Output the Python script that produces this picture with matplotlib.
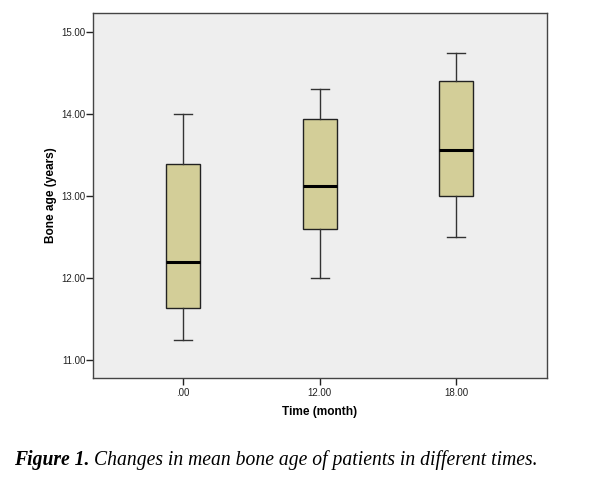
import matplotlib
matplotlib.use("Agg")
import matplotlib.pyplot as plt

categories = [".00", "12.00", "18.00"]
whislo = [11.25, 12.0, 12.5]
q1 = [11.63, 12.60, 13.0]
med = [12.20, 13.12, 13.56]
q3 = [13.39, 13.945, 14.41]
whishi = [14.0, 14.31, 14.75]
yticks = [11.0, 12.0, 13.0, 14.0, 15.0]
ytick_labels = ["11.00", "12.00", "13.00", "14.00", "15.00"]

fig = plt.figure(figsize=(5.91, 4.79), dpi=100)
ax = fig.add_axes([93/591, 1-378/479, (547-93)/591, (378-13)/479])
ax.set_facecolor("#EEEEEE")

stats = []
for i, c in enumerate(categories):
    stats.append(dict(label=c, whislo=whislo[i], q1=q1[i], med=med[i],
                      q3=q3[i], whishi=whishi[i], fliers=[]))
positions = list(range(1, len(categories) + 1))
ax.bxp(stats, positions=positions, widths=0.25, patch_artist=True,
       showfliers=False, capwidths=0.13,
       boxprops=dict(facecolor="#D3CE98", edgecolor="#222222", linewidth=1.0),
       medianprops=dict(color="black", linewidth=2.2),
       whiskerprops=dict(color="#333333", linewidth=1.0),
       capprops=dict(color="#333333", linewidth=1.0))

ax.set_xlim(0.34, 3.665)
ax.set_ylim(10.78, 15.236)
ax.set_yticks(yticks)
ax.set_yticklabels(ytick_labels)
ax.set_xticks(positions)
ax.set_xticklabels(categories)
for s in ax.spines.values():
    s.set_color("#444444")
    s.set_linewidth(1.0)
ax.tick_params(axis="both", direction="out", length=5, width=1.0, color="#222222",
               labelsize=7, labelcolor="#222222", pad=0.5)
ax.tick_params(axis="x", pad=2.5)
for lab in ax.get_xticklabels() + ax.get_yticklabels():
    lab.set_family("Liberation Sans")

ax.set_ylabel("Bone age (years)", fontsize=8.6, fontweight="bold",
              family="Liberation Sans", labelpad=3)
ax.set_xlabel("Time (month)", fontsize=8.6, fontweight="bold",
              family="Liberation Sans", labelpad=5.5)

t1 = fig.text(14/591, 1-460/479, "Figure 1.", fontsize=14.1, fontstyle="italic",
              fontweight="bold", family="Liberation Serif", va="center", ha="left")
fig.canvas.draw()
bb = t1.get_window_extent(renderer=fig.canvas.get_renderer())
fig.text((bb.x1 + 5) / fig.bbox.width, 1-460/479,
         "Changes in mean bone age of patients in different times.",
         fontsize=14.1, fontstyle="italic", family="Liberation Serif",
         va="center", ha="left")

fig.savefig("out.png", dpi=100)
